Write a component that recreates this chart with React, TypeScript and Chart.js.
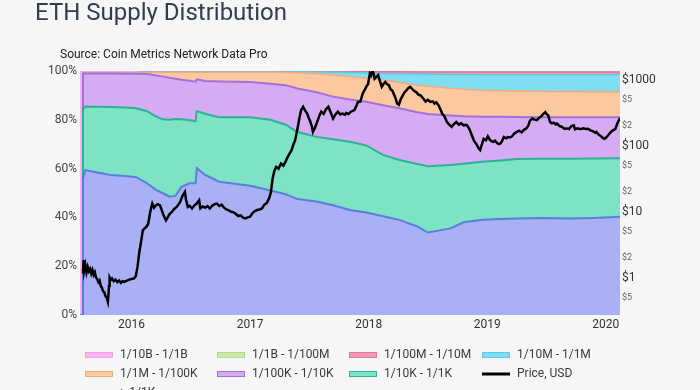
import React, { useEffect, useRef } from 'react';
import { Chart, registerables } from 'chart.js';

Chart.register(...registerables);

// ---- Data ----
const BAND_YEARS = [
  2015.565, 2015.582, 2015.59, 2015.61, 2015.70, 2015.82, 2015.95, 2016.04, 2016.13, 2016.20, 2016.26,
  2016.32, 2016.37, 2016.42, 2016.49, 2016.54, 2016.55, 2016.62, 2016.74, 2017.00, 2017.17,
  2017.30, 2017.40, 2017.56, 2017.70, 2017.84, 2017.98, 2018.12, 2018.26, 2018.40, 2018.50,
  2018.69, 2018.80, 2018.96, 2019.11, 2019.25, 2019.45, 2019.70, 2019.90, 2020.12,
];

// share of supply (%) per holding band, bottom band first
const SHARE_GT_1K = [
  0, 0, 56, 59.4, 58.5, 57.4, 57.0, 56.5, 54, 51.5, 50,
  48.5, 48.8, 52.5, 54, 54, 60.2, 57.4, 54.6, 53, 51,
  49.5, 47.5, 46.5, 45, 43, 42, 40.5, 39, 36.5, 33.8,
  35.5, 38, 39, 39.3, 39.5, 39.8, 39.5, 39.8, 40.3,
];
const SHARE_10K_1K = [
  0, 0, 28.3, 26.0, 26.8, 27.8, 28.0, 28.2, 29.5, 30.0, 30.2,
  31.5, 31.5, 27.7, 25.8, 25.5, 23.4, 25.1, 26.4, 28, 29,
  28.5, 27.5, 26.5, 27, 28, 27.5, 25.1, 24.5, 25.5, 27.2,
  26.0, 24, 23.8, 24.0, 24.4, 24.2, 24.5, 24.3, 23.9,
];
const SHARE_100K_10K = [
  0, 0, 14.6, 13.6, 13.7, 13.8, 13.9, 14.2, 15.3, 16.8, 17.6,
  17.2, 16.5, 16.2, 16.2, 16.1, 13.0, 13.4, 14.7, 14.5, 14.8,
  16.2, 17.8, 18.3, 17.5, 17.3, 17.9, 20.4, 21.2, 21.2, 21.4,
  20.3, 19.5, 18.5, 17.9, 17.2, 17.0, 17.0, 16.9, 16.8,
];
const SHARE_1M_100K = [
  0, 0, 0.1, 0.1, 0.1, 0.1, 0.2, 0.3, 0.6, 1.2, 1.7,
  2.3, 2.7, 3.1, 3.5, 3.9, 2.9, 3.6, 3.8, 4.0, 4.7,
  5.2, 6.5, 7.7, 8.9, 9.4, 9.6, 10.3, 10.6, 11.1, 11.4,
  11.1, 11.0, 10.8, 10.7, 10.7, 10.7, 10.6, 10.5, 10.5,
];
const SHARE_10M_1M = [
  0, 0, 0.05, 0.05, 0.05, 0.05, 0.05, 0.05, 0.05, 0.05, 0.05,
  0.05, 0.05, 0.05, 0.05, 0.05, 0.05, 0.05, 0.05, 0.05, 0.05,
  0.2, 0.35, 0.6, 1.1, 1.7, 2.2, 2.7, 3.6, 4.5, 4.9,
  5.7, 6.1, 6.4, 6.6, 6.7, 6.8, 6.9, 7.0, 7.0,
];
const SHARE_100M_10M = [
  0, 0, 0.15, 0.15, 0.15, 0.15, 0.15, 0.15, 0.15, 0.15, 0.15,
  0.15, 0.15, 0.15, 0.15, 0.15, 0.15, 0.15, 0.15, 0.15, 0.15,
  0.2, 0.15, 0.2, 0.3, 0.35, 0.5, 0.65, 0.75, 0.8, 0.9,
  1.0, 1.0, 1.1, 1.1, 1.1, 1.1, 1.1, 1.1, 1.1,
];
const SHARE_1B_100M = [
  0, 0, 0.1, 0.1, 0.1, 0.1, 0.1, 0.1, 0.05, 0.05, 0.05,
  0.05, 0.05, 0.05, 0.05, 0.05, 0.05, 0.05, 0.05, 0.05, 0.05,
  0.05, 0.05, 0.05, 0.05, 0.05, 0.05, 0.05, 0.05, 0.05, 0.05,
  0.05, 0.05, 0.05, 0.05, 0.05, 0.05, 0.05, 0.05, 0.05,
];
const SHARE_10B_1B = [
  100, 100, 0.7, 0.6, 0.6, 0.6, 0.6, 0.5, 0.35, 0.25, 0.25,
  0.25, 0.25, 0.25, 0.25, 0.25, 0.25, 0.25, 0.25, 0.25, 0.25,
  0.15, 0.15, 0.15, 0.15, 0.2, 0.25, 0.3, 0.3, 0.35, 0.35,
  0.35, 0.35, 0.35, 0.35, 0.35, 0.35, 0.35, 0.35, 0.35,
];

const PRICE_YEARS = [
  2015.590, 2015.595, 2015.600, 2015.610, 2015.620, 2015.630, 2015.640, 2015.650, 2015.660, 2015.670,
  2015.680, 2015.690, 2015.700, 2015.710, 2015.720, 2015.730, 2015.740, 2015.750, 2015.760, 2015.770,
  2015.780, 2015.790, 2015.800, 2015.805, 2015.810, 2015.815, 2015.825, 2015.835, 2015.850, 2015.865,
  2015.880, 2015.895, 2015.910, 2015.925, 2015.940, 2015.960, 2015.980, 2016.000, 2016.020, 2016.035,
  2016.050, 2016.065, 2016.080, 2016.095, 2016.110, 2016.125, 2016.140, 2016.160, 2016.175, 2016.190,
  2016.205, 2016.220, 2016.240, 2016.255, 2016.270, 2016.290, 2016.305, 2016.320, 2016.340, 2016.360,
  2016.380, 2016.395, 2016.410, 2016.430, 2016.450, 2016.460, 2016.475, 2016.490, 2016.510, 2016.530,
  2016.550, 2016.570, 2016.580, 2016.600, 2016.620, 2016.640, 2016.660, 2016.680, 2016.700, 2016.720,
  2016.740, 2016.760, 2016.780, 2016.800, 2016.820, 2016.840, 2016.860, 2016.880, 2016.900, 2016.920,
  2016.940, 2016.960, 2016.980, 2017.000, 2017.020, 2017.040, 2017.060, 2017.080, 2017.100, 2017.120,
  2017.140, 2017.160, 2017.175, 2017.190, 2017.205, 2017.220, 2017.240, 2017.260, 2017.280, 2017.300,
  2017.310, 2017.330, 2017.350, 2017.365, 2017.380, 2017.400, 2017.415, 2017.430, 2017.447, 2017.465,
  2017.480, 2017.495, 2017.505, 2017.520, 2017.530, 2017.550, 2017.565, 2017.585, 2017.600, 2017.620,
  2017.640, 2017.660, 2017.680, 2017.700, 2017.720, 2017.740, 2017.760, 2017.780, 2017.800, 2017.810,
  2017.830, 2017.850, 2017.880, 2017.900, 2017.910, 2017.930, 2017.950, 2017.965, 2017.980, 2017.995,
  2018.010, 2018.020, 2018.030, 2018.040, 2018.050, 2018.065, 2018.080, 2018.095, 2018.110, 2018.125,
  2018.140, 2018.155, 2018.170, 2018.185, 2018.200, 2018.210, 2018.225, 2018.240, 2018.255, 2018.270,
  2018.280, 2018.300, 2018.320, 2018.335, 2018.350, 2018.370, 2018.385, 2018.400, 2018.420, 2018.440,
  2018.460, 2018.480, 2018.500, 2018.520, 2018.540, 2018.555, 2018.570, 2018.590, 2018.605, 2018.620,
  2018.640, 2018.660, 2018.680, 2018.700, 2018.720, 2018.740, 2018.760, 2018.780, 2018.800, 2018.820,
  2018.830, 2018.850, 2018.870, 2018.890, 2018.910, 2018.930, 2018.940, 2018.955, 2018.970, 2018.990,
  2019.005, 2019.020, 2019.035, 2019.050, 2019.065, 2019.080, 2019.095, 2019.110, 2019.125, 2019.140,
  2019.160, 2019.175, 2019.190, 2019.210, 2019.230, 2019.250, 2019.270, 2019.290, 2019.310, 2019.330,
  2019.345, 2019.360, 2019.380, 2019.400, 2019.420, 2019.440, 2019.450, 2019.470, 2019.490, 2019.500,
  2019.515, 2019.530, 2019.545, 2019.560, 2019.580, 2019.590, 2019.610, 2019.630, 2019.650, 2019.670,
  2019.690, 2019.710, 2019.730, 2019.740, 2019.760, 2019.780, 2019.800, 2019.810, 2019.830, 2019.850,
  2019.870, 2019.890, 2019.910, 2019.920, 2019.940, 2019.960, 2019.980, 2019.990, 2020.005, 2020.020,
  2020.040, 2020.060, 2020.080, 2020.100, 2020.120,
];
const PRICE_USD = [
  1.15, 1.85, 1.25, 1.55, 1.2, 1.45, 1.25, 1.35, 1.15, 1.3,
  1.1, 1.2, 1.0, 0.95, 0.85, 0.9, 0.75, 0.7, 0.62, 0.6,
  0.52, 0.5, 0.43, 0.55, 0.75, 1.0, 0.92, 0.97, 0.88, 0.93,
  0.85, 0.9, 0.83, 0.88, 0.86, 0.9, 0.93, 0.95, 0.97, 1.05,
  1.45, 2.4, 3.5, 5.2, 5.6, 5.9, 6.5, 10.5, 13.3, 11.5,
  12.5, 13, 12.5, 10.5, 8.8, 7.4, 8.2, 9.2, 9.9, 11,
  11.8, 12.8, 14.1, 17.5, 20, 14.9, 11.8, 12.3, 11.2, 12.5,
  13.3, 14.9, 11.2, 12, 11.5, 12.2, 11.2, 12.3, 13, 13.3,
  12.2, 12.8, 11.5, 10.8, 10.5, 10, 9.8, 9.2, 8.6, 8.8,
  8.1, 7.9, 8.2, 8.4, 9.5, 10.2, 10.6, 10.8, 11.2, 12.8,
  13.5, 16, 19.5, 32, 42, 48, 45, 54, 50, 58,
  64, 75, 86, 105, 122, 184, 260, 350, 392, 340,
  312, 265, 240, 200, 163, 194, 230, 290, 330, 305,
  360, 392, 320, 260, 300, 330, 300, 310, 298, 315,
  305, 330, 350, 420, 465, 470, 625, 700, 790, 870,
  1250, 1180, 1390, 1280, 1050, 1120, 1190, 960, 790, 870,
  935, 860, 840, 720, 690, 625, 540, 440, 420, 510,
  550, 640, 700, 760, 790, 720, 680, 655, 600, 580,
  525, 470, 500, 465, 475, 440, 460, 410, 360, 310,
  280, 230, 210, 194, 215, 230, 210, 220, 205, 208,
  205, 180, 145, 118, 105, 90, 86, 105, 128, 122,
  140, 125, 118, 115, 120, 112, 106, 108, 118, 136,
  130, 136, 134, 140, 155, 163, 170, 160, 175, 184,
  200, 240, 260, 250, 245, 270, 275, 300, 325, 305,
  290, 230, 220, 225, 212, 218, 200, 195, 182, 184,
  180, 200, 205, 178, 185, 180, 182, 184, 180, 182,
  172, 168, 158, 163, 148, 140, 130, 128, 135, 145,
  160, 172, 180, 225, 265,
];

const YEAR_TICKS = [2016, 2017, 2018, 2019, 2020];
const PCT_TICKS = [0, 20, 40, 60, 80, 100];
const PRICE_TICKS = [0.5, 1, 2, 5, 10, 20, 50, 100, 200, 500, 1000];

// bottom-to-top stacking order
const BANDS = [
  { label: '> 1/1K', values: SHARE_GT_1K, fill: '#aab0f6', border: '#5a7ede', width: 2 },
  { label: '1/10K - 1/1K', values: SHARE_10K_1K, fill: '#7ee3c4', border: '#2bb193', width: 2 },
  { label: '1/100K - 1/10K', values: SHARE_100K_10K, fill: '#d5abf4', border: '#a470dc', width: 2 },
  { label: '1/1M - 1/100K', values: SHARE_1M_100K, fill: '#fcc8a0', border: '#f2aa7c', width: 1.5 },
  { label: '1/10M - 1/1M', values: SHARE_10M_1M, fill: '#80def2', border: '#5ccbe6', width: 1.5 },
  { label: '1/100M - 1/10M', values: SHARE_100M_10M, fill: '#f39ab2', border: '#e7759a', width: 1.5 },
  { label: '1/1B - 1/100M', values: SHARE_1B_100M, fill: '#cdeaa8', border: '#b2dc8c', width: 1 },
  { label: '1/10B - 1/1B', values: SHARE_10B_1B, fill: '#f8b4f0', border: '#eea2e8', width: 1 },
];

const LEGEND_ORDER = [
  '1/10B - 1/1B', '1/1B - 1/100M', '1/100M - 1/10M', '1/10M - 1/1M',
  '1/1M - 1/100K', '1/100K - 1/10K', '1/10K - 1/1K', 'Price, USD',
  '> 1/1K',
];

const gridLegendPlugin = {
  id: 'gridLegend',
  afterDraw(chart: any) {
    const ctx = chart.ctx;
    const colX = [85, 217, 349, 482];
    const rowY = [355, 374, 393];
    ctx.save();
    ctx.font = '12px Roboto';
    ctx.textBaseline = 'middle';
    ctx.textAlign = 'left';
    LEGEND_ORDER.forEach((label, i) => {
      const ds = chart.data.datasets.find((d: any) => d.label === label);
      if (!ds) return;
      const x = colX[i % 4];
      const y = rowY[Math.floor(i / 4)];
      if (label === 'Price, USD') {
        ctx.strokeStyle = '#000';
        ctx.lineWidth = 3;
        ctx.beginPath();
        ctx.moveTo(x, y);
        ctx.lineTo(x + 28, y);
        ctx.stroke();
      } else {
        ctx.fillStyle = ds.backgroundColor;
        ctx.fillRect(x, y - 3, 28, 6);
        ctx.strokeStyle = ds.borderColor;
        ctx.lineWidth = 1;
        ctx.strokeRect(x + 0.5, y - 2.5, 27, 5);
      }
      ctx.fillStyle = '#3a3a3a';
      ctx.fillText(label, x + 35, y);
    });
    ctx.restore();
  },
};

function isPow10(v: number) {
  const l = Math.log10(v);
  return Math.abs(l - Math.round(l)) < 1e-9;
}

export default function App() {
  const canvasRef = useRef<HTMLCanvasElement | null>(null);

  useEffect(() => {
    document.body.style.margin = '0';
    document.body.style.background = '#f6f6f6';
    const canvas = canvasRef.current;
    if (!canvas) return;

    const bandSets = BANDS.map((b, i) => ({
      label: b.label,
      data: BAND_YEARS.map((x, j) => ({ x, y: b.values[j] })),
      backgroundColor: b.fill,
      borderColor: b.border,
      borderWidth: b.width,
      fill: i === 0 ? 'origin' : '-1',
      pointRadius: 0,
      tension: 0,
      yAxisID: 'y',
      order: 1,
    }));

    const priceSet = {
      label: 'Price, USD',
      data: PRICE_YEARS.map((x, j) => ({ x, y: PRICE_USD[j] })),
      borderColor: '#000000',
      backgroundColor: '#000000',
      borderWidth: 2.5,
      fill: false,
      pointRadius: 0,
      tension: 0,
      yAxisID: 'y1',
      order: 0,
    };

    const chart = new Chart(canvas, {
      type: 'line',
      data: { datasets: [...bandSets, priceSet] as any },
      options: {
        animation: false,
        responsive: false,
        devicePixelRatio: 1,
        layout: { padding: { top: 71, left: 0, right: 0, bottom: 0 } },
        plugins: {
          legend: { display: false },
          tooltip: { enabled: false },
          title: { display: false },
        },
        scales: {
          x: {
            type: 'linear',
            min: 2015.565,
            max: 2020.12,
            grid: { display: false, drawTicks: false },
            border: { display: false },
            afterBuildTicks: (s: any) => {
              s.ticks = YEAR_TICKS.map((v) => ({ value: v }));
            },
            afterFit: (s: any) => {
              s.height = 75;
            },
            ticks: {
              padding: 3,
              autoSkip: false,
              maxRotation: 0,
              color: '#333',
              font: { family: 'Roboto', size: 12 },
              callback: (v: any) => String(v),
            },
          },
          y: {
            type: 'linear',
            position: 'left',
            stacked: true,
            min: 0,
            max: 100,
            grid: { display: false, drawTicks: false },
            border: { display: false },
            afterBuildTicks: (s: any) => {
              s.ticks = PCT_TICKS.map((v) => ({ value: v }));
            },
            afterFit: (s: any) => {
              s.width = 80;
            },
            ticks: {
              padding: 3,
              color: '#444',
              font: { family: 'Roboto', size: 12 },
              callback: (v: any) => v + '%',
            },
          },
          y1: {
            type: 'logarithmic',
            position: 'right',
            min: 0.27,
            max: 1370,
            grid: { display: false, drawTicks: false },
            border: { display: false },
            afterBuildTicks: (s: any) => {
              s.ticks = PRICE_TICKS.map((v) => ({ value: v, major: isPow10(v) }));
            },
            afterFit: (s: any) => {
              s.width = 80;
            },
            ticks: {
              padding: 2,
              autoSkip: false,
              color: (c: any) => (c.tick && isPow10(c.tick.value) ? '#333' : '#666'),
              font: (c: any) => ({
                family: 'Roboto',
                size: c.tick && isPow10(c.tick.value) ? 12 : 9,
              }),
              callback: (v: any) => {
                const n = Number(v);
                if (isPow10(n)) return '$' + n;
                const d = String(n).replace(/[^1-9]/g, '')[0];
                return '$' + d;
              },
            },
          },
        },
      } as any,
      plugins: [gridLegendPlugin],
    });

    return () => chart.destroy();
  }, []);

  return (
    <div
      style={{
        position: 'fixed',
        left: 0,
        top: 0,
        width: 700,
        height: 390,
        overflow: 'hidden',
        background: '#f6f6f6',
        fontFamily: 'Roboto, sans-serif',
      }}
    >
      <canvas
        ref={canvasRef}
        width={700}
        height={390}
        style={{ position: 'absolute', left: 0, top: 0, width: 700, height: 390 }}
      />
      <div
        style={{
          position: 'absolute',
          left: 35,
          top: 0,
          fontSize: 24,
          lineHeight: '24px',
          color: '#2f3e50',
          whiteSpace: 'nowrap',
        }}
      >
        ETH Supply Distribution
      </div>
      <div
        style={{
          position: 'absolute',
          left: 60,
          top: 47,
          fontSize: 12,
          lineHeight: '14px',
          color: '#222',
          whiteSpace: 'nowrap',
        }}
      >
        Source: Coin Metrics Network Data Pro
      </div>
    </div>
  );
}
